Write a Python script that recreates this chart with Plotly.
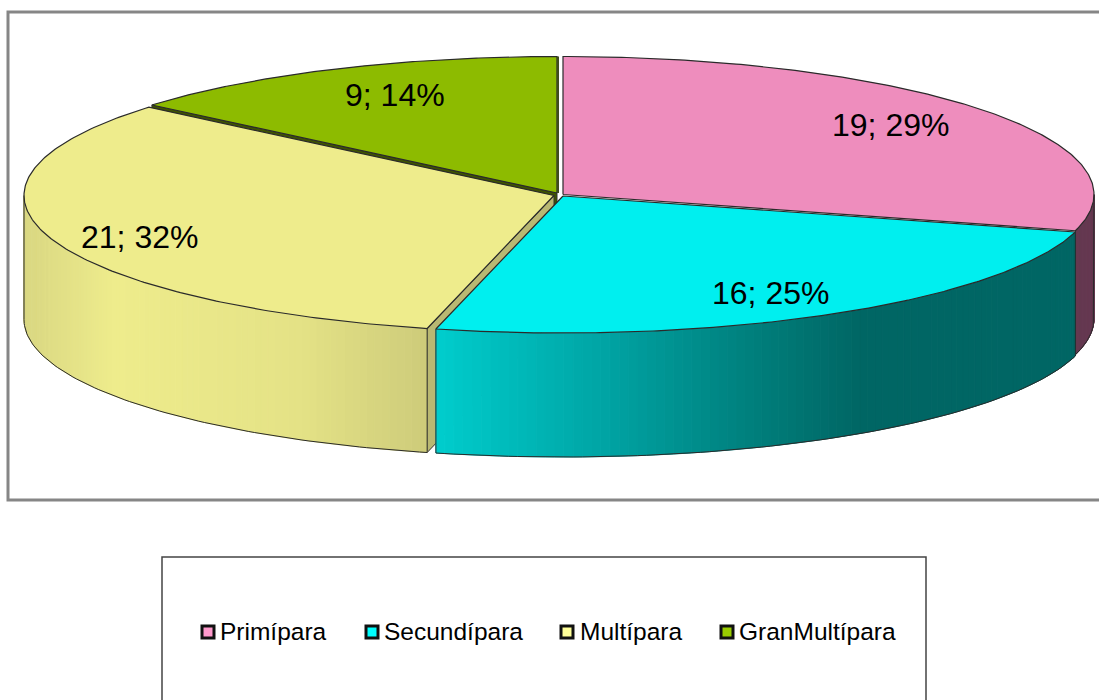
import numpy as np
import plotly.graph_objects as go

# datos del grafico
categorias = ['Primípara', 'Secundípara', 'Multípara', 'GranMultípara']
valores = [19, 16, 21, 9]

# estilo de cada porcion
color_cara = ['#EE8DBD', '#00EFEF', '#EEEC8C', '#8DBB00']
color_leyenda = ['#FF99CC', '#00FFFF', '#FFFF99', '#99CC00']
color_corte = ['#5E3A50', '#006660', '#B9B872', '#3F5400']

# degradado del borde: (x en pixeles, color rgb)
grad_x = {
    0: [1070, 1100],
    1: [435, 600, 760, 860, 1080],
    2: [24, 115, 300, 428],
}
grad_rgb = {
    0: [(102, 58, 82), (102, 58, 82)],
    1: [(0, 205, 205), (0, 165, 165), (0, 125, 122), (0, 102, 100), (0, 102, 100)],
    2: [(217, 215, 130), (238, 236, 140), (228, 226, 134), (205, 203, 122)],
}

# geometria de cada porcion en pixeles (porciones separadas)
centro_x = [563, 563, 554, 557]
centro_y = [194.5, 196, 195.5, 193]
radio_x = [531, 531, 530, 530]
radio_y = [138, 137, 137, 136.5]
alto = 124

# etiquetas y leyenda
etiqueta_x = [890, 770, 139, 395]
etiqueta_y = [125, 293, 237, 95]
marca_x = [208, 372, 567, 727]
texto_x = [218, 382, 578, 737]
leyenda_y = 631

total = sum(valores)
cortes = np.cumsum([0] + valores) / total * 360

fig = go.Figure()


def punto(i, ang):
    t = np.radians(ang)
    return centro_x[i] + radio_x[i] * np.sin(t), centro_y[i] - radio_y[i] * np.cos(t)


def poligono(xs, ys, relleno, linea=None, ancho=0.0):
    fig.add_trace(go.Scatter(
        x=list(xs), y=list(ys), mode='lines', fill='toself', fillcolor=relleno,
        line=dict(color=linea if linea else relleno, width=ancho),
        hoverinfo='skip', showlegend=False
    ))


def dibujar_corte(i, ang):
    px, py = punto(i, ang)
    cx, cy = centro_x[i], centro_y[i]
    poligono([cx, px, px, cx, cx], [cy, py, py + alto, cy + alto, cy],
             color_corte[i], '#333333', 1)


def dibujar_borde(i):
    # solo la mitad delantera del pastel deja ver su borde
    a0 = max(cortes[i], 90)
    a1 = min(cortes[i + 1], 270)
    if a1 <= a0:
        return
    angs = np.linspace(a0, a1, 90)
    for a, b in zip(angs[:-1], angs[1:]):
        xa, ya = punto(i, a)
        xb, yb = punto(i, b)
        r, g, c = [np.interp((xa + xb) / 2, grad_x[i], [k[n] for k in grad_rgb[i]]) for n in range(3)]
        color = f'rgb({r:.0f},{g:.0f},{c:.0f})'
        poligono([xa, xb, xb, xa, xa], [ya, yb, yb + alto, ya + alto, ya], color, color, 1)
    # contorno del borde
    xs, ys = punto(i, angs)
    fig.add_trace(go.Scatter(
        x=[xs[0]] + list(xs) + [xs[-1]],
        y=[ys[0]] + list(ys + alto) + [ys[-1]],
        mode='lines', line=dict(color='#2A2A2A', width=1),
        hoverinfo='skip', showlegend=False
    ))


def dibujar_cara(i):
    angs = np.linspace(cortes[i], cortes[i + 1], 200)
    xs, ys = punto(i, angs)
    cx, cy = centro_x[i], centro_y[i]
    poligono([cx] + list(xs) + [cx], [cy] + list(ys) + [cy], color_cara[i], '#2A2A2A', 1.2)


# de atras hacia adelante: verde, rosa, amarillo, celeste
dibujar_corte(3, cortes[3])
dibujar_cara(3)
fig.add_trace(go.Scatter(
    x=[centro_x[3] + 1, centro_x[3] + 1], y=[punto(3, 360)[1], centro_y[3]],
    mode='lines', line=dict(color='#3F4A20', width=2),
    hoverinfo='skip', showlegend=False
))

dibujar_borde(0)
dibujar_cara(0)

dibujar_corte(2, cortes[2])
dibujar_borde(2)
dibujar_cara(2)

dibujar_borde(1)
dibujar_cara(1)

# etiquetas de valor y porcentaje
for i, v in enumerate(valores):
    fig.add_annotation(
        x=etiqueta_x[i], y=etiqueta_y[i], text=f'{v}; {v / total * 100:.0f}%',
        showarrow=False, font=dict(family='Liberation Sans', size=32, color='#000000')
    )

# leyenda
fig.add_trace(go.Scatter(
    x=marca_x, y=[leyenda_y + 1] * len(marca_x), mode='markers',
    marker=dict(symbol='square', size=12, color=color_leyenda, line=dict(color='#111111', width=3)),
    hoverinfo='skip', showlegend=False
))
for i, nombre in enumerate(categorias):
    fig.add_annotation(
        x=texto_x[i], y=leyenda_y, text=nombre, xanchor='left',
        showarrow=False, font=dict(family='Liberation Sans', size=24.5, color='#000000')
    )

fig.add_shape(type='rect', x0=8, y0=12, x1=1115, y1=500, line=dict(color='#868686', width=3))
fig.add_shape(type='rect', x0=162, y0=557, x1=926, y1=720, line=dict(color='#444444', width=1.5))

fig.update_layout(
    width=1099, height=700,
    margin=dict(l=0, r=0, t=0, b=0),
    plot_bgcolor='white', paper_bgcolor='white',
    xaxis=dict(range=[0, 1099], visible=False),
    yaxis=dict(range=[700, 0], visible=False),
    showlegend=False
)

# sin el margen del body la figura ocupa toda la ventana
fig.write_html("out.html", config={'displayModeBar': False},
               post_script="document.body.style.margin='0';")
